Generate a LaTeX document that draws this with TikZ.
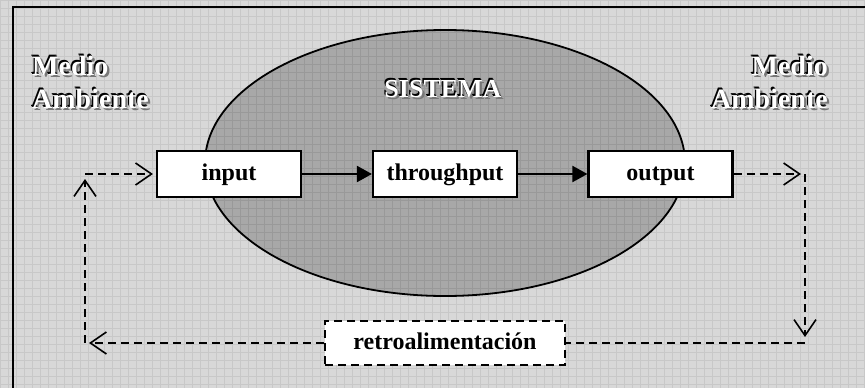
\documentclass[tikz,border=0pt]{standalone}
\usepackage{fontspec}
\setmainfont{Liberation Serif}
\usetikzlibrary{arrows.meta}
\definecolor{bgcol}{HTML}{D8D8D8}
\definecolor{bggrid}{HTML}{C8C8C8}
\definecolor{ellcol}{HTML}{A8A8A8}
\definecolor{ellgrid}{HTML}{999999}
\definecolor{shadowgray}{HTML}{777777}
\newcommand\embtext[1]{\rlap{\hspace{2.2pt}\raisebox{-2.2pt}{\color{shadowgray}#1}}\rlap{\hspace{-1.3pt}\raisebox{1.3pt}{\color{black}#1}}\rlap{\hspace{-0.6pt}\raisebox{0.6pt}{\color{black}#1}}{\color{white}#1}}
\tikzset{
  embstyle/.style={inner sep=0pt, font=\fontsize{28}{30}\selectfont\bfseries},
  procbox/.style={draw, line width=2.1pt, fill=white, minimum width=144pt, minimum height=46pt, inner sep=0pt, text height=17pt, text depth=4pt, font=\fontsize{24}{26}\selectfont\bfseries},
  dashline/.style={line width=2.1pt, dash pattern=on 8pt off 5pt},
  flowarrow/.style={line width=2pt, -{Triangle[length=15pt,width=16pt]}},
  fbarrow/.style={dashline, -{Straight Barb[length=16pt,width=22pt,line width=1.6pt,sep=0pt]}}
}
\begin{document}
\begin{tikzpicture}[x=1pt,y=-1pt]
\useasboundingbox (0,0) rectangle (865,388);
% background
\fill[bgcol] (0,0) rectangle (865,388);
\draw[bggrid, step=8pt, line width=0.6pt] (0,0) grid (865,388);
% system ellipse
\begin{scope}
  \clip (445,163) ellipse [x radius=240, y radius=133];
  \fill[ellcol] (0,0) rectangle (865,388);
  \draw[ellgrid, step=8pt, line width=0.6pt] (0,0) grid (865,388);
\end{scope}
\draw[line width=1.8pt] (445,163) ellipse [x radius=240, y radius=133];
% frame
\draw[line width=2.2pt] (13,388) -- (13,7) -- (865,7);
% titles
\node[embstyle, anchor=base west] (medioL) at (32,75) {\embtext{Medio}};
\node[embstyle, anchor=base west] (ambL) at (32,108) {\embtext{Ambiente}};
\node[embstyle, anchor=base east] (medioR) at (828,75) {\embtext{Medio}};
\node[embstyle, anchor=base east] (ambR) at (828,108) {\embtext{Ambiente}};
\node[embstyle, anchor=base, font=\fontsize{26}{28}\selectfont\bfseries] (sis) at (443,97) {\embtext{SISTEMA}};
% process boxes
\node[procbox] (in) at (229,174) {input};
\node[procbox] (thr) at (445,174) {throughput};
\node[procbox] (out) at (660.5,174) {output};
\node[procbox, dashline, minimum width=240pt, minimum height=44pt] (retro) at (445,343) {retroalimentación};
% corners of feedback loop
\coordinate (cTR) at (805,174);
\coordinate (cBR) at (805,343);
\coordinate (cBL) at (85,343);
\coordinate (cTL) at (85,174);
% solid flow
\draw[flowarrow] (in) -- (thr);
\draw[flowarrow] (thr) -- (out);
% feedback
\draw[fbarrow, shorten >=4pt] (out.east) -- (cTR);
\draw[fbarrow, shorten >=6pt] (cTR) -- (cBR);
\draw[dashline] (cBR) -- (retro.east);
\draw[fbarrow, shorten >=4pt] (retro.west) -- (cBL);
\draw[fbarrow, shorten >=5pt] (cBL) -- (cTL);
\draw[fbarrow, shorten >=3pt] (cTL) -- (in.west);
\end{tikzpicture}
\end{document}
